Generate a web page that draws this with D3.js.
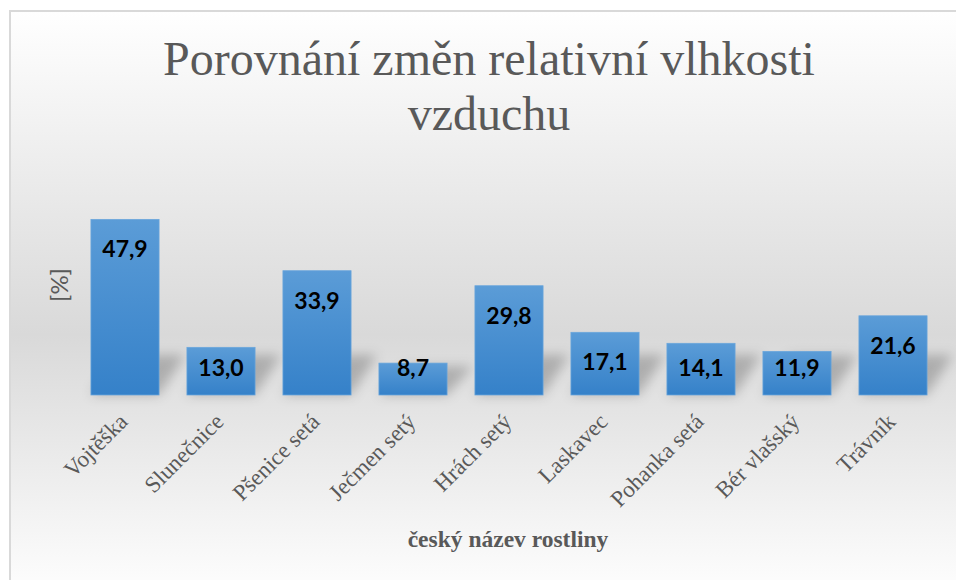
<!DOCTYPE html>
<html>
<head>
<meta charset="utf-8">
<script src="https://cdn.jsdelivr.net/npm/d3@7"></script>
<style>
  body { margin: 0; background: #fff; }
  svg { display: block; }
  .serif { font-family: 'Liberation Serif'; }
  .sans { font-family: 'Lato'; }
</style>
</head>
<body>
<div id="chart"></div>
<script>
(function () {

  var plants = ['Vojtěška', 'Slunečnice', 'Pšenice setá', 'Ječmen setý', 'Hrách setý',
                'Laskavec', 'Pohanka setá', 'Bér vlašský', 'Trávník']
  var changes = [47.9, 13.0, 33.9, 8.7, 29.8, 17.1, 14.1, 11.9, 21.6]
  var titleLines = ['Porovnání změn relativní vlhkosti', 'vzduchu']

  var data = plants.map(function (p, i) { return {name: p, value: changes[i]} })

  var width = 956, height = 580

  var svg = d3.select('#chart').append('svg')
    .attr('width', width)
    .attr('height', height)

  var defs = svg.append('defs')

  // background gradient: white -> grey -> white
  var bg = defs.append('linearGradient')
    .attr('id', 'bg')
    .attr('gradientUnits', 'userSpaceOnUse')
    .attr('x1', 0).attr('x2', 0).attr('y1', 10).attr('y2', 600)
  bg.append('stop').attr('offset', 0).attr('stop-color', '#ffffff')
  bg.append('stop').attr('offset', 0.55).attr('stop-color', '#d9d9d9')
  bg.append('stop').attr('offset', 1).attr('stop-color', '#ffffff')

  var barGrad = defs.append('linearGradient')
    .attr('id', 'bar')
    .attr('x1', 0).attr('x2', 0).attr('y1', 0).attr('y2', 1)
  barGrad.append('stop').attr('offset', 0).attr('stop-color', '#5b9cd7')
  barGrad.append('stop').attr('offset', 1).attr('stop-color', '#3581c9')

  defs.append('filter')
    .attr('id', 'blur')
    .attr('x', '-50%').attr('y', '-50%').attr('width', '200%').attr('height', '200%')
    .append('feGaussianBlur').attr('stdDeviation', 6)

  svg.append('rect')
    .attr('x', 10).attr('y', 11)
    .attr('width', 960).attr('height', 600)
    .attr('fill', 'url(#bg)')
    .attr('stroke', '#d9d9d9')
    .attr('stroke-width', 2)

  // title
  svg.append('text')
    .attr('class', 'serif')
    .attr('text-anchor', 'middle')
    .style('font-size', '48px')
    .attr('fill', '#595959')
    .selectAll('tspan')
    .data(titleLines)
    .enter().append('tspan')
    .attr('x', 489)
    .attr('y', function (d, i) { return 75 + i * 55 })
    .text(function (d) { return d })

  var x = d3.scaleBand()
    .domain(plants)
    .range([77, 941])
    .paddingInner(0.29)
    .paddingOuter(0.145)

  var y = d3.scaleLinear()
    .domain([0, 60])
    .range([395, 175])

  var base = y(0)

  // soft perspective shadows behind the bars
  svg.append('g')
    .attr('filter', 'url(#blur)')
    .selectAll('path')
    .data(data)
    .enter().append('path')
    .attr('d', function (d) {
      var x0 = x(d.name), x1 = x0 + x.bandwidth()
      var h = Math.min(40, (base - y(d.value)) * 0.9)
      return 'M' + x0 + ',' + base + 'L' + x1 + ',' + base +
        'L' + (x1 + 26) + ',' + (base - h) + 'L' + (x0 + 26) + ',' + (base - h) + 'Z'
    })
    .attr('fill', 'rgba(0,0,0,0.22)')

  svg.append('g')
    .selectAll('rect')
    .data(data)
    .enter().append('rect')
    .attr('x', function (d) { return x(d.name) })
    .attr('y', function (d) { return y(d.value) })
    .attr('width', x.bandwidth())
    .attr('height', function (d) { return base - y(d.value) })
    .attr('fill', 'url(#bar)')
    .attr('stroke', '#6aa6dc')
    .attr('stroke-width', 0.75)

  // value labels
  svg.append('g')
    .selectAll('text')
    .data(data)
    .enter().append('text')
    .attr('class', 'sans')
    .attr('x', function (d) { return x(d.name) + x.bandwidth() / 2 })
    .attr('y', function (d) { return Math.min(y(d.value) + 38, base - 19) })
    .attr('text-anchor', 'middle')
    .style('font-weight', 'bold')
    .style('font-size', '23px')
    .attr('fill', '#000')
    .text(function (d) { return d3.format('.1f')(d.value).replace('.', ',') })

  // category labels
  svg.append('g')
    .selectAll('text')
    .data(plants)
    .enter().append('text')
    .attr('class', 'serif')
    .attr('transform', function (d) {
      return 'translate(' + (x(d) + x.bandwidth() / 2 + 4) + ',' + 423 + ') rotate(-45)'
    })
    .attr('text-anchor', 'end')
    .style('font-size', '23px')
    .attr('fill', '#595959')
    .text(function (d) { return d })

  svg.append('text')
    .attr('class', 'serif')
    .attr('x', 508)
    .attr('y', 547)
    .attr('text-anchor', 'middle')
    .style('font-weight', 'bold')
    .style('font-size', '23.5px')
    .attr('fill', '#595959')
    .text('český název rostliny')

  svg.append('text')
    .attr('class', 'sans')
    .attr('transform', 'translate(68,285) rotate(-90)')
    .attr('text-anchor', 'middle')
    .style('font-size', '24px')
    .attr('fill', '#595959')
    .text('[%]')

})()
</script>
</body>
</html>
